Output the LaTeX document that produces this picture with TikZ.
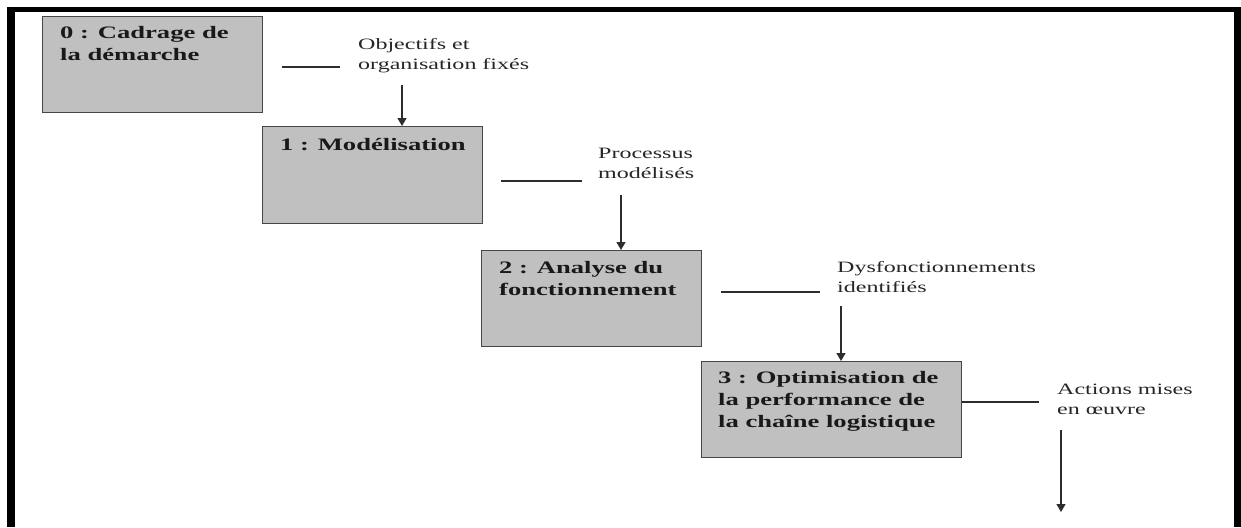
\documentclass[tikz,border=0pt]{standalone}
\usepackage{fontspec}
\setmainfont{Liberation Serif}[FakeStretch=1.52]
\usetikzlibrary{arrows.meta}
\definecolor{boxfill}{RGB}{192,192,192}
\definecolor{boxline}{RGB}{70,70,70}
\definecolor{wire}{RGB}{45,45,45}
% multi-line text whose base is the first line
\newcommand{\firstbase}[1]{\begin{tabular}[t]{@{}l@{}}#1\end{tabular}}
\tikzset{
  stagebox/.style={draw=boxline, line width=1.3pt, fill=boxfill, inner sep=0pt, anchor=north west},
  stagetext/.style={inner sep=0pt, anchor=base west, text=black!90,
    font=\fontsize{17.5}{22}\selectfont\bfseries},
  outlabel/.style={inner sep=0pt, anchor=base west, text=black!85,
    font=\fontsize{15.8}{20}\selectfont},
  wireline/.style={draw=wire, line width=1.2pt},
  flow/.style={draw=wire, line width=1.2pt, arrows={-Triangle[width=9pt,length=8pt]}},
  frame/.style={fill=black}
}
\begin{document}
\begin{tikzpicture}[x=1pt,y=-1pt]
\useasboundingbox (0,0) rectangle (1241,527);

% page frame (open at the bottom)
\fill[frame] (7,7) rectangle (1241,12);
\fill[frame] (7,7) rectangle (15,527);
\fill[frame] (1234,7) rectangle (1241,527);

% stage boxes
\node[stagebox, minimum width=220pt, minimum height=96pt] (b0) at (42,16) {};
\node[stagebox, minimum width=220pt, minimum height=97pt] (b1) at (262,126) {};
\node[stagebox, minimum width=220pt, minimum height=96pt] (b2) at (481,250) {};
\node[stagebox, minimum width=260pt, minimum height=96pt] (b3) at (701,361) {};

% stage titles
\node[stagetext] (t0) at (60,38) {\firstbase{0 : Cadrage de\\la démarche}};
\node[stagetext] (t1) at (280,150) {1 : Modélisation};
\node[stagetext] (t2) at (499,273) {\firstbase{2 : Analyse du\\fonctionnement}};
\node[stagetext] (t3) at (718,383) {\firstbase{3 : Optimisation de\\la performance de\\la chaîne logistique}};

% deliverables
\node[outlabel] (o0) at (358,50) {\firstbase{Objectifs et\\organisation fixés}};
\node[outlabel] (o1) at (598,158) {\firstbase{Processus\\modélisés}};
\node[outlabel] (o2) at (837,272) {\firstbase{Dysfonctionnements\\identifiés}};
\node[outlabel] (o3) at (1057,394) {\firstbase{Actions mises\\en œuvre}};

% leader lines
\coordinate (c0a) at (282,67);  \coordinate (c0b) at (340,67);
\coordinate (c1a) at (501,181); \coordinate (c1b) at (582,181);
\coordinate (c2a) at (721,292); \coordinate (c2b) at (820,292);
\coordinate (c3b) at (1039,402);
\draw[wireline] (c0a) -- (c0b);
\draw[wireline] (c1a) -- (c1b);
\draw[wireline] (c2a) -- (c2b);
\draw[wireline] (b3.east |- c3b) -- (c3b);

% arrows into the next stage
\coordinate (a0) at (402,85);
\coordinate (a1) at (621,195);
\coordinate (a2) at (841,306);
\coordinate (a3) at (1061,430);
\coordinate (a3e) at (1061,512);
\draw[flow] (a0) -- (b1.north -| a0);
\draw[flow] (a1) -- (b2.north -| a1);
\draw[flow] (a2) -- (b3.north -| a2);
\draw[flow] (a3) -- (a3e);
\end{tikzpicture}
\end{document}
